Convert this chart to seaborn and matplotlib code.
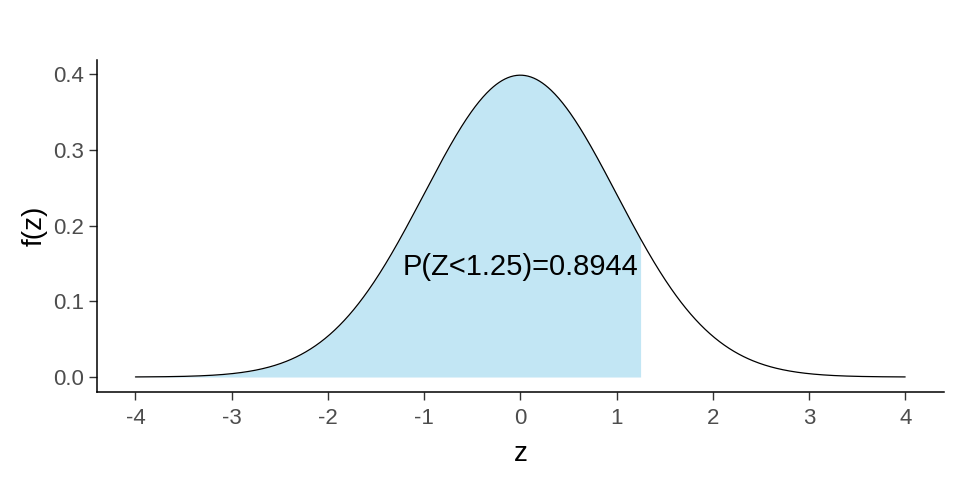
import numpy as np
import pandas as pd
import matplotlib
matplotlib.use("Agg")
import matplotlib.pyplot as plt
import seaborn as sns

# Chart parameters
mu = 0.0
sigma = 1.0
z_cut = 1.25
prob_label = "P(Z<1.25)=0.8944"
label_pos = (0.0, 0.146)
x_ticks = [-4, -3, -2, -1, 0, 1, 2, 3, 4]
y_ticks = [0.0, 0.1, 0.2, 0.3, 0.4]
y_ticklabels = ["0.0", "0.1", "0.2", "0.3", "0.4"]

z = np.linspace(-4, 4, 801)
fz = np.exp(-0.5 * ((z - mu) / sigma) ** 2) / (sigma * np.sqrt(2 * np.pi))
df = pd.DataFrame({"z": z, "f(z)": fz})

sns.set_theme(style="ticks")
plt.rcParams["font.family"] = ["Liberation Sans", "DejaVu Sans"]

fig = plt.figure(figsize=(9.6, 4.8), dpi=100)
ax = fig.add_axes([0.101, 0.183, 0.882, 0.692])

shade = df[df["z"] <= z_cut]
ax.fill_between(shade["z"], 0, shade["f(z)"], color="#87CEEB", alpha=0.5, linewidth=0)
sns.lineplot(data=df, x="z", y="f(z)", color="black", linewidth=0.9, ax=ax)

ax.text(label_pos[0], label_pos[1], prob_label, ha="center", va="center", fontsize=21, color="black")

ax.set_xlim(-4.4, 4.4)
ax.set_ylim(-0.02, 0.419)
ax.set_xticks(x_ticks)
ax.set_xticklabels([str(t) for t in x_ticks])
ax.set_yticks(y_ticks)
ax.set_yticklabels(y_ticklabels)
ax.tick_params(axis="x", pad=6)
ax.tick_params(axis="y", pad=4)
ax.tick_params(axis="both", labelsize=16, colors="#333333", labelcolor="#4d4d4d", length=5.5, width=1.0)
ax.set_xlabel("z", fontsize=20, color="black", labelpad=8.5)
ax.set_ylabel("f(z)", fontsize=20, color="black", labelpad=4)
for s in ["top", "right"]:
    ax.spines[s].set_visible(False)
for s in ["left", "bottom"]:
    ax.spines[s].set_color("black")
    ax.spines[s].set_linewidth(1.1)

fig.savefig("out.png", dpi=100)
